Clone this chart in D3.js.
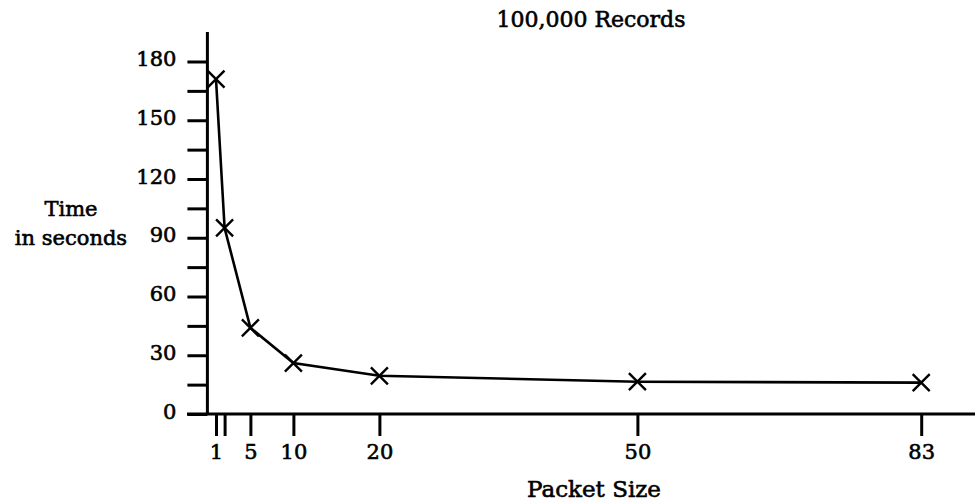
<!DOCTYPE html>
<html>
<head>
<meta charset="utf-8">
<script src="https://cdn.jsdelivr.net/npm/d3@7"></script>
<style>
  body { margin: 0; background: #fff; }
  text { font-family: "DejaVu Serif", serif; fill: #000; stroke: #000; stroke-width: 0.6px; }
</style>
</head>
<body>
<svg id="chart"></svg>
<script>
const packetSizes = [1, 2, 5, 10, 20, 50, 83];
const timeSeconds = [171, 95, 44, 26, 19.5, 16.5, 16];
const xTickValues = [1, 2, 5, 10, 20, 50, 83];
const xTickLabels = ["1", "", "5", "10", "20", "50", "83"];
const yTickValues = [0, 15, 30, 45, 60, 75, 90, 105, 120, 135, 150, 165, 180];
const yTickLabels = ["0", "", "30", "", "60", "", "90", "", "120", "", "150", "", "180"];

const width = 975;
const height = 504;

const svg = d3.select("#chart")
    .attr("width", width)
    .attr("height", height);

const xScale = d3.scaleLinear()
    .domain([0, 83])
    .range([207.4, 921.2]);

const yScale = d3.scaleLinear()
    .domain([0, 180])
    .range([414, 61.5]);

// x axis: line runs to the right edge, ticks point down
const xAxis = d3.axisBottom(xScale)
    .tickValues(xTickValues)
    .tickFormat((d, i) => xTickLabels[i])
    .tickSize(22)
    .tickPadding(8)
    .tickSizeOuter(0);

const gx = svg.append("g")
    .attr("transform", "translate(0," + yScale(0) + ")")
    .call(xAxis);
gx.select(".domain").remove();
gx.append("line")
    .attr("x1", 187).attr("x2", width)
    .attr("stroke", "#000").attr("stroke-width", 3);
gx.selectAll(".tick line").attr("stroke", "#000").attr("stroke-width", 3);
gx.selectAll(".tick text")
    .attr("font-size", 21)
    .attr("font-family", "DejaVu Serif")
    .attr("fill", "#000");

// y axis
const yAxis = d3.axisLeft(yScale)
    .tickValues(yTickValues)
    .tickFormat((d, i) => yTickLabels[i])
    .tickSize(20)
    .tickPadding(11)
    .tickSizeOuter(0);

const gy = svg.append("g")
    .attr("transform", "translate(" + xScale(0) + ",0)")
    .call(yAxis);
gy.select(".domain").remove();
gy.append("line")
    .attr("y1", 32).attr("y2", yScale(0))
    .attr("stroke", "#000").attr("stroke-width", 3);
gy.selectAll(".tick line").attr("stroke", "#000").attr("stroke-width", 3);
gy.selectAll(".tick text")
    .attr("font-size", 21)
    .attr("font-family", "DejaVu Serif")
    .attr("dy", "0.2em")
    .attr("fill", "#000");

// data line
const points = packetSizes.map((p, i) => [p, timeSeconds[i]]);

const line = d3.line()
    .x(d => xScale(d[0]))
    .y(d => yScale(d[1]));

svg.append("path")
    .datum(points)
    .attr("d", line)
    .attr("fill", "none")
    .attr("stroke", "#000")
    .attr("stroke-width", 2.6);

// X markers
const m = 8.5;
svg.selectAll(".marker")
    .data(points)
    .enter().append("path")
    .attr("class", "marker")
    .attr("d", d => {
        const cx = xScale(d[0]), cy = yScale(d[1]);
        return "M" + (cx - m) + "," + (cy - m) + "L" + (cx + m) + "," + (cy + m) +
               "M" + (cx - m) + "," + (cy + m) + "L" + (cx + m) + "," + (cy - m);
    })
    .attr("stroke", "#000")
    .attr("stroke-width", 2.4)
    .attr("fill", "none");

// titles
svg.append("text")
    .attr("x", 591)
    .attr("y", 27)
    .attr("text-anchor", "middle")
    .attr("font-size", 22)
    .text("100,000 Records");

svg.append("text")
    .attr("x", 594)
    .attr("y", 497)
    .attr("text-anchor", "middle")
    .attr("font-size", 23)
    .text("Packet Size");

svg.append("text")
    .attr("x", 71)
    .attr("y", 216)
    .attr("text-anchor", "middle")
    .attr("font-size", 21)
    .text("Time");

svg.append("text")
    .attr("x", 71)
    .attr("y", 245)
    .attr("text-anchor", "middle")
    .attr("font-size", 21)
    .text("in seconds");
</script>
</body>
</html>
